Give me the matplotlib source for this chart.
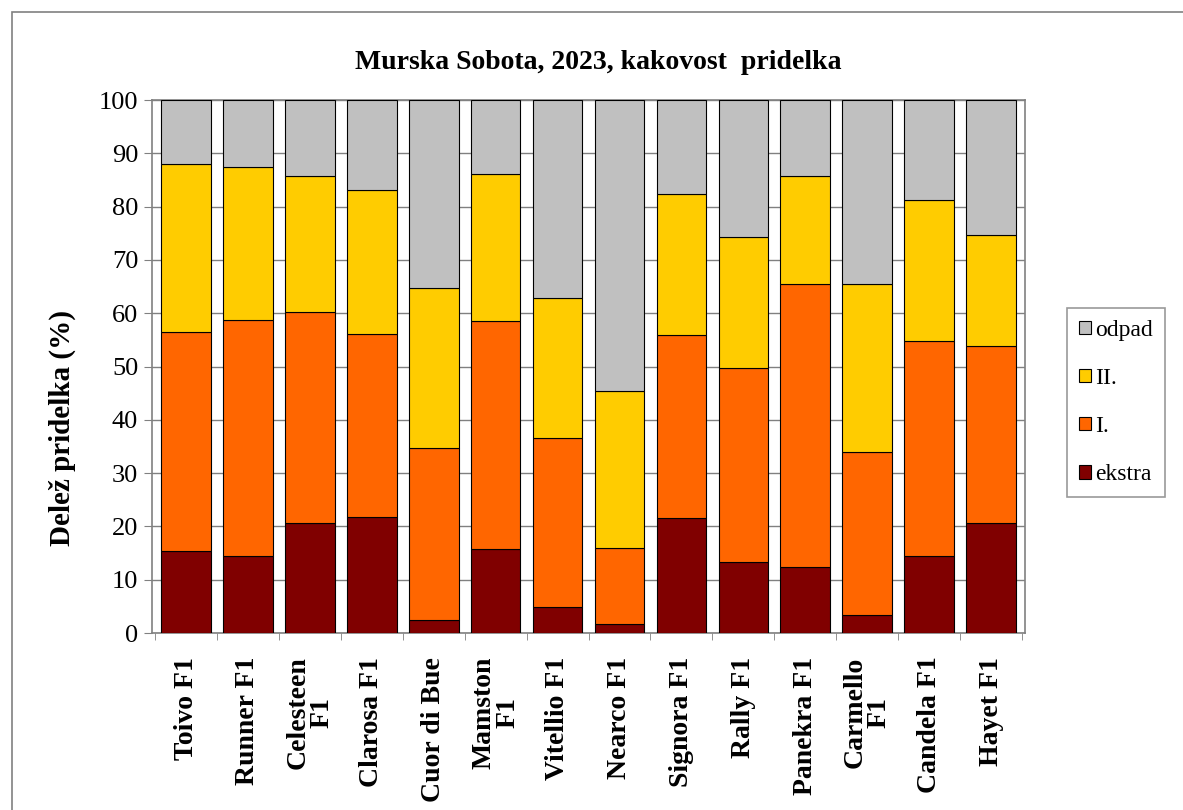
import matplotlib
matplotlib.use("Agg")
import matplotlib.pyplot as plt
import numpy as np
from matplotlib.patches import Rectangle

sorte = ["Toivo F1", "Runner F1", "Celesteen\nF1", "Clarosa F1", "Cuor di Bue",
         "Mamston\nF1", "Vitellio F1", "Nearco F1", "Signora F1", "Rally F1",
         "Panekra F1", "Carmello\nF1", "Candela F1", "Hayet F1"]

# deleži (%) po kakovostnih razredih
ekstra = [15.3, 14.4, 20.6, 21.7, 2.4, 15.7, 4.8, 1.6, 21.6, 13.4, 12.4, 3.4, 14.4, 20.6]
prvi   = [41.2, 44.3, 39.7, 34.4, 32.3, 42.8, 31.8, 14.4, 34.4, 36.4, 53.1, 30.5, 40.3, 33.2]
drugi  = [31.5, 28.8, 25.4, 27.0, 30.0, 27.6, 26.3, 29.5, 26.4, 24.5, 20.2, 31.5, 26.5, 20.8]
odpad  = [12.0, 12.5, 14.3, 16.9, 35.3, 13.9, 37.1, 54.5, 17.6, 25.7, 14.3, 34.6, 18.8, 25.4]

barve = {"ekstra": "#800000", "I.": "#FF6600", "II.": "#FFCC00", "odpad": "#C0C0C0"}

plt.rcParams["font.family"] = ["Liberation Serif", "DejaVu Serif"]

fig = plt.figure(figsize=(11.83, 8.10), dpi=100)
ax = fig.add_axes([0.1285, 0.2185, 0.738, 0.658])

# okvir okrog celotnega grafa
fig.patches.append(Rectangle((12 / 1183, -0.05), 1.2, 1 - 12 / 810 + 0.05,
                             transform=fig.transFigure, fill=False,
                             edgecolor="#808080", linewidth=1.2))

x = np.arange(len(sorte))
dno = np.zeros(len(sorte))
for ime, vrednosti in [("ekstra", ekstra), ("I.", prvi), ("II.", drugi), ("odpad", odpad)]:
    ax.bar(x, vrednosti, width=0.8, bottom=dno, color=barve[ime], edgecolor="black",
           linewidth=0.8, label=ime, zorder=3)
    dno += np.array(vrednosti)

ax.set_ylim(0, 100)
ax.set_xlim(-0.55, len(sorte) - 0.45)
ax.set_yticks(range(0, 101, 10))
ax.tick_params(axis="y", labelsize=19, length=6, color="#808080", pad=4)
ax.yaxis.grid(True, color="#808080", linewidth=1, zorder=0)

ax.set_xticks(x)
ax.set_xticklabels(sorte, rotation=90, fontsize=20, fontweight="bold",
                   linespacing=0.95)
ax.tick_params(axis="x", length=0, pad=17)
ax.set_xticks(np.arange(-0.5, len(sorte), 1), minor=True)
ax.tick_params(axis="x", which="minor", length=5, color="#808080")

for s in ax.spines.values():
    s.set_color("#808080")
    s.set_linewidth(1.2)

ax.set_ylabel("Delež pridelka (%)", fontsize=21, fontweight="bold")
ax.yaxis.set_label_coords(-0.087, 0.385)
ax.set_title("Murska Sobota, 2023, kakovost  pridelka", fontsize=20,
             fontweight="bold", x=0.511, pad=22)

h, l = ax.get_legend_handles_labels()
leg = fig.legend(h[::-1], l[::-1], loc="center left", bbox_to_anchor=(0.902, 0.503),
                 fontsize=17, frameon=True, fancybox=False, labelspacing=1.15,
                 handlelength=0.5, handleheight=0.5, handletextpad=0.2,
                 borderpad=0.5, borderaxespad=0)
leg.get_frame().set_edgecolor("#808080")
leg.get_frame().set_linewidth(1.2)

fig.savefig("out.png", dpi=100)
